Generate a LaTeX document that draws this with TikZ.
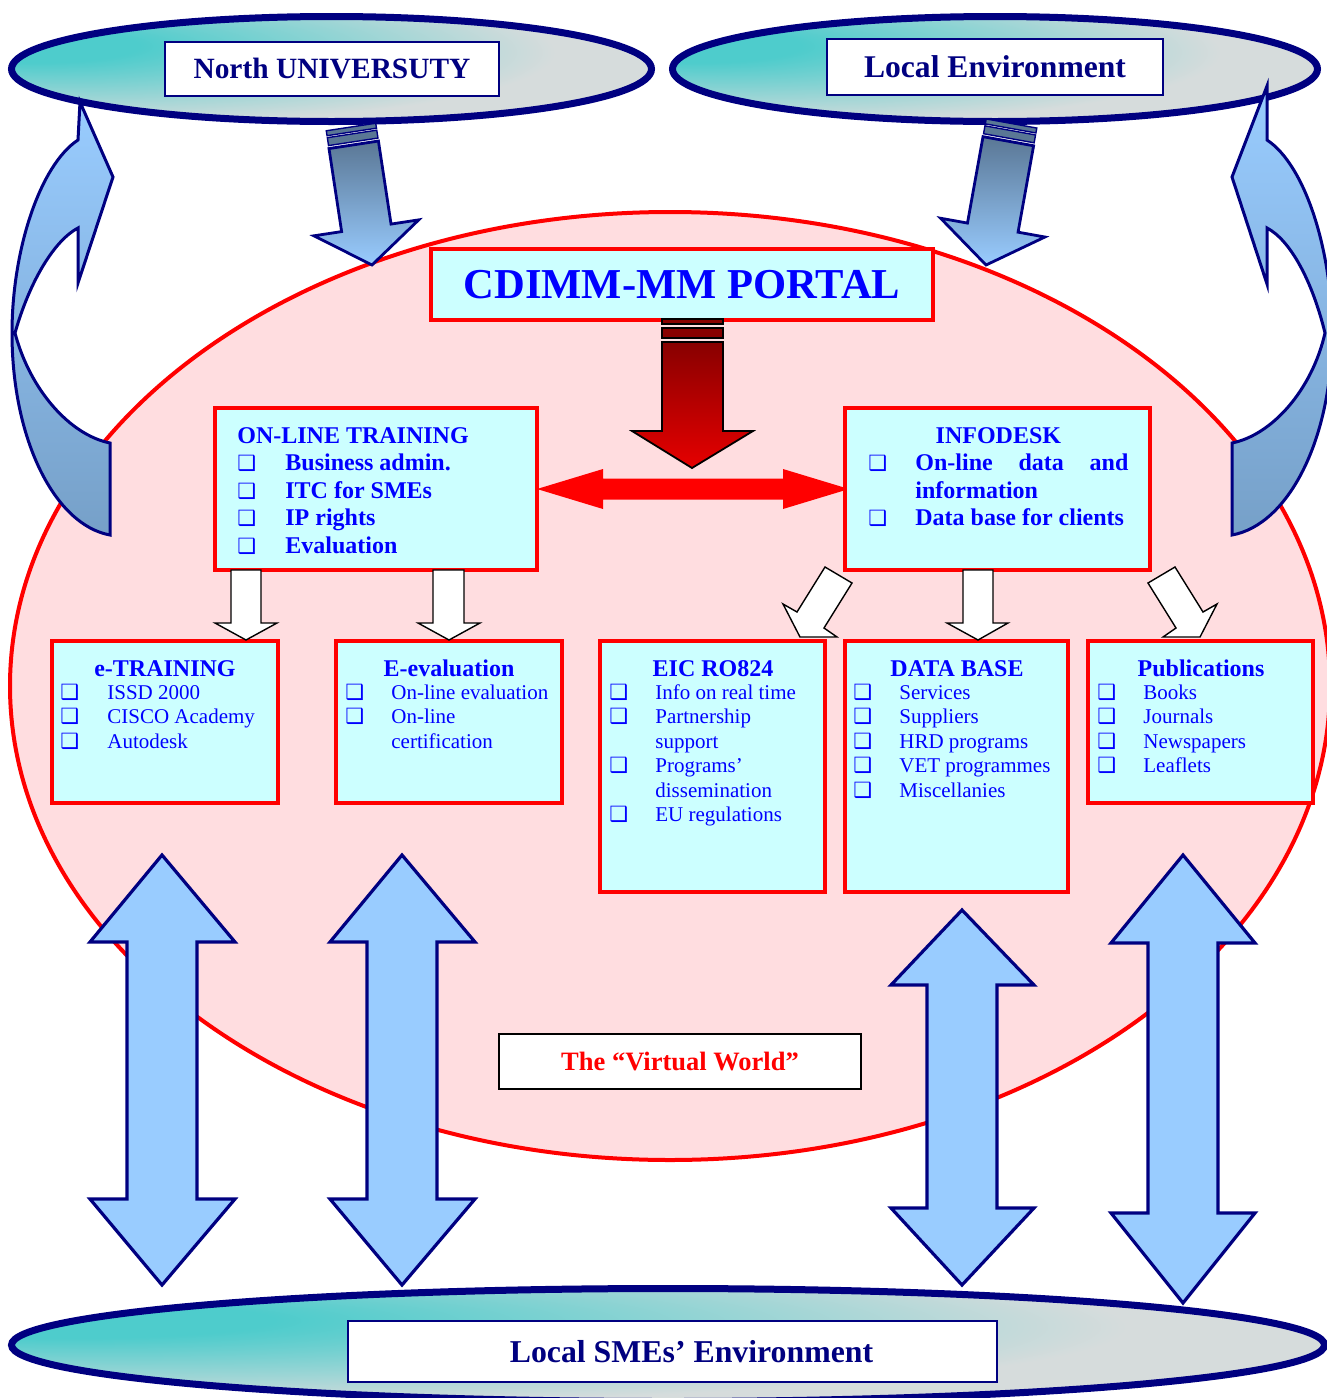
\documentclass[tikz,border=0pt]{standalone}
\usepackage{fontspec}
\setmainfont{Liberation Serif}
\newfontfamily\dejavu{DejaVu Sans}
\definecolor{navyc}{HTML}{000080}
\definecolor{pinkc}{HTML}{FFDDE0}
\definecolor{cyanc}{HTML}{CCFFFF}
\definecolor{ellteal}{HTML}{4ECCCC}
\definecolor{ellgray}{HTML}{D6DCDC}
\definecolor{arlight}{HTML}{99CCFF}
\definecolor{ardark}{HTML}{5A7795}
\definecolor{curvbot}{HTML}{76A0C8}
\definecolor{bluet}{HTML}{0000FF}
\definecolor{darkredc}{HTML}{880000}
\definecolor{redbot}{HTML}{E60000}
\pgfdeclareradialshading{ellrad}{\pgfpoint{-25bp}{12bp}}{color(0bp)=(ellteal); color(8bp)=(ellteal); color(34bp)=(ellgray); color(100bp)=(ellgray)}
\newcommand{\mycb}[1]{\makebox[#1][l]{{\dejavu\fontsize{10.5}{10.5}\selectfont ❑}}}
\begin{document}
\begin{tikzpicture}[x=0.5pt,y=-0.5pt,
  ell/.style={draw=navyc, line width=3.5pt, shading=ellrad},
  labbox/.style={draw=navyc, line width=0.8pt, fill=white, text=navyc, inner sep=0pt},
  redbox/.style={draw=red, line width=2pt, fill=cyanc, inner sep=0pt},
  topa/.style={draw=navyc, line width=1.4pt, top color=ardark, bottom color=arlight},
  stripe/.style={draw=navyc, line width=0.7pt, fill=ardark},
  curv/.style={draw=navyc, line width=1.5pt, top color=arlight, bottom color=curvbot},
  dbl/.style={draw=navyc, line width=1.6pt, fill=arlight},
  whitea/.style={draw=black, line width=0.7pt, fill=white},
  listb/.style={font=\fontsize{12}{13.75}\selectfont\bfseries, text=bluet, align=flush left, inner sep=0pt, anchor=base west},
  listr/.style={font=\fontsize{10.5}{12.25}\selectfont, text=bluet, align=flush left, inner sep=0pt, anchor=base west, text width=125pt},
  ttl/.style={font=\fontsize{12}{12}\selectfont\bfseries, text=bluet, inner sep=0pt, anchor=base}]
\useasboundingbox (0,0) rectangle (1327,1398);
\clip (0,0) rectangle (1327,1398);

% big pink "virtual world" ellipse
\draw[red, line width=2pt, fill=pinkc] (670,686) ellipse [x radius=660, y radius=474];

% top and bottom ellipses
\path[ell] (331.5,69) ellipse [x radius=320, y radius=52.5];
\path[ell] (995,69) ellipse [x radius=322.5, y radius=52.5];
\path[ell] (668,1345) ellipse [x radius=656.5, y radius=56.5];
\node[labbox, minimum width=167pt, minimum height=27pt, font=\fontsize{14.7}{16}\selectfont\bfseries] (north) at (332,69) {North UNIVERSUTY};
\node[labbox, minimum width=168pt, minimum height=28pt, font=\fontsize{15.8}{17}\selectfont\bfseries] (localenv) at (995,67) {Local Environment};
\node[labbox, minimum width=324.5pt, minimum height=30.5pt, font=\fontsize{15.9}{17}\selectfont\bfseries] (smes) at (672.5,1351.5) {\hspace*{19pt}Local SMEs’ Environment};

% slanted arrows from the top ellipses
\begin{scope}[shift={(351,127)}, rotate=8.65]
  \draw[stripe] (-25,0) rectangle (25,5);
  \draw[stripe] (-25,7) rectangle (25,15);
  \draw[topa] (-25,18) -- (25,18) -- (25,102) -- (53,102) -- (0,139.6) -- (-53,102) -- (-25,102) -- cycle;
\end{scope}
\begin{scope}[shift={(1011.5,123.5)}, rotate=-10.2]
  \draw[stripe] (-25.7,0) rectangle (25.7,5);
  \draw[stripe] (-25.7,7) rectangle (25.7,15);
  \draw[topa] (-25.7,18) -- (25.7,18) -- (25.7,105.8) -- (53,105.8) -- (0,143.8) -- (-53,105.8) -- (-25.7,105.8) -- cycle;
\end{scope}

% curved arrows at the sides
\draw[curv] (78,140) .. controls (40,165) and (12,250) .. (12,333)
  .. controls (12,440) and (55,525) .. (110,535) -- (110,443)
  .. controls (70,435) and (30,390) .. (15,333)
  .. controls (30,280) and (55,240) .. (78,228)
  -- (78,283) -- (113,177) -- (80,102) -- cycle;
\draw[curv] (1267,140) .. controls (1305,165) and (1332,250) .. (1332,333)
  .. controls (1332,440) and (1288,525) .. (1232,535) -- (1232,443)
  .. controls (1272,435) and (1312,390) .. (1325,333)
  .. controls (1312,280) and (1290,240) .. (1267,228)
  -- (1267,284) -- (1232,177) -- (1267,86) -- cycle;

% portal
\node[redbox, minimum width=251pt, minimum height=35.5pt, text=bluet, font=\fontsize{21.3}{24}\selectfont\bfseries] (portal) at (682,284.5) {CDIMM-MM PORTAL};

% red down arrow
\draw[black, line width=0.9pt, fill=darkredc] (662,319) rectangle (723,324);
\draw[black, line width=0.9pt, fill=darkredc] (662,328) rectangle (723,338);
\draw[black, line width=0.9pt, top color=darkredc, bottom color=redbot] (662,342) -- (723,342) -- (723,431) -- (753,431) -- (692,468) -- (632,431) -- (662,431) -- cycle;

% red double arrow
\fill[red] (537,489) -- (603,469) -- (603,478.5) -- (783,478.5) -- (783,469) -- (849,489) -- (783,509) -- (783,499.5) -- (603,499.5) -- (603,509) -- cycle;

% upper boxes
\node[redbox, minimum width=161pt, minimum height=81pt] (online) at (376,489) {};
\node[listb, text width=148pt] (onlinetxt) at (237,443) {ON-LINE TRAINING\\
\mycb{24pt}Business admin.\\
\mycb{24pt}ITC for SMEs\\
\mycb{24pt}IP rights\\
\mycb{24pt}Evaluation};
\node[redbox, minimum width=152.5pt, minimum height=81pt] (infodesk) at (997.5,489) {};
\node[listb, text width=132pt] (infotxt) at (868,443) {\makebox[130pt][c]{INFODESK}\\
\mycb{23.5pt}\makebox[106.5pt][s]{On-line\hfill data\hfill and}\\
\hspace*{23.5pt}information\\
\mycb{23.5pt}Data base for clients};

% lower boxes
\node[redbox, minimum width=113pt, minimum height=81pt] (etrain) at (165,722) {};
\node[ttl] (etraint) at (165,676) {e-TRAINING};
\node[listr] (etrainl) at (60,699) {\mycb{23.5pt}ISSD 2000\\
\mycb{23.5pt}CISCO Academy\\
\mycb{23.5pt}Autodesk};

\node[redbox, minimum width=113pt, minimum height=81pt] (eeval) at (449,722) {};
\node[ttl] (eevalt) at (449,676) {E-evaluation};
\node[listr] (eevall) at (345,699) {\mycb{23pt}On-line evaluation\\
\mycb{23pt}On-line\\
\hspace*{23pt}certification};

\node[redbox, minimum width=112.5pt, minimum height=125.5pt] (eic) at (712.5,766.5) {};
\node[ttl] (eict) at (713,676) {EIC RO824};
\node[listr] (eicl) at (609,699) {\mycb{23pt}Info on real time\\
\mycb{23pt}Partnership\\
\hspace*{23pt}support\\
\mycb{23pt}Programs’\\
\hspace*{23pt}dissemination\\
\mycb{23pt}EU regulations};

\node[redbox, minimum width=111.5pt, minimum height=125.5pt] (db) at (956.5,766.5) {};
\node[ttl] (dbt) at (957,676) {DATA BASE};
\node[listr] (dbl) at (853,699) {\mycb{23pt}Services\\
\mycb{23pt}Suppliers\\
\mycb{23pt}HRD programs\\
\mycb{23pt}VET programmes\\
\mycb{23pt}Miscellanies};

\node[redbox, minimum width=112.5pt, minimum height=81pt] (pub) at (1200.5,722) {};
\node[ttl] (pubt) at (1201,676) {Publications};
\node[listr] (publ) at (1097,699) {\mycb{23pt}Books\\
\mycb{23pt}Journals\\
\mycb{23pt}Newspapers\\
\mycb{23pt}Leaflets};

% white block arrows
\draw[whitea] (231,570) -- (261,570) -- (261,623) -- (277,623) -- (246,640) -- (215,623) -- (231,623) -- cycle;
\draw[whitea] (433,570) -- (464,570) -- (464,623) -- (480,623) -- (449,640) -- (418,623) -- (433,623) -- cycle;
\draw[whitea] (963,570) -- (993,570) -- (993,623) -- (1008,623) -- (978,640) -- (947,623) -- (963,623) -- cycle;
\draw[whitea] (852,583) -- (825,567) -- (797,612) -- (783,604) -- (800,637) -- (837,637) -- (824,628) -- cycle;
\draw[whitea] (1148,583) -- (1175,567) -- (1203,612) -- (1217,604) -- (1200,637) -- (1163,637) -- (1176,628) -- cycle;

% vertical double arrows
\draw[dbl] (162,855) -- (235,942) -- (197,942) -- (197,1199) -- (235,1199) -- (162,1285) -- (90,1199) -- (127,1199) -- (127,942) -- (90,942) -- cycle;
\draw[dbl] (402,855) -- (475,942) -- (437,942) -- (437,1199) -- (475,1199) -- (402,1285) -- (330,1199) -- (367,1199) -- (367,942) -- (330,942) -- cycle;
\draw[dbl] (962,910) -- (1034,985) -- (997,985) -- (997,1208) -- (1034,1208) -- (962,1285) -- (891,1208) -- (927,1208) -- (927,985) -- (891,985) -- cycle;
\draw[dbl] (1183,855) -- (1255,943) -- (1218,943) -- (1218,1213) -- (1255,1213) -- (1183,1303) -- (1111,1213) -- (1148,1213) -- (1148,943) -- (1111,943) -- cycle;

% virtual world label
\node[draw=black, line width=1pt, fill=white, minimum width=181pt, minimum height=27.5pt, inner sep=0pt, text=red, font=\fontsize{13.25}{15}\selectfont\bfseries] (vworld) at (680,1061.5) {The “Virtual World”};
\end{tikzpicture}
\end{document}
